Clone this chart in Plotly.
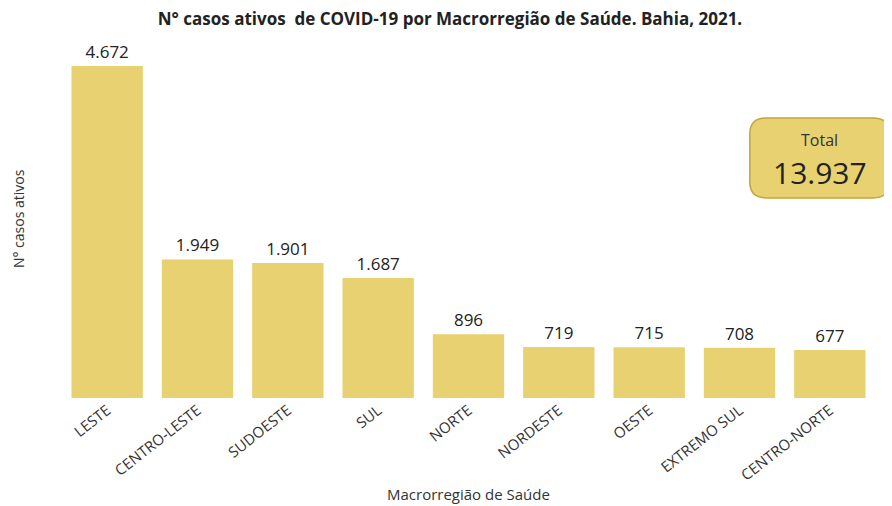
import plotly.graph_objects as go

regioes = ['LESTE', 'CENTRO-LESTE', 'SUDOESTE', 'SUL', 'NORTE', 'NORDESTE',
           'OESTE', 'EXTREMO SUL', 'CENTRO-NORTE']
casos = [4672, 1949, 1901, 1687, 896, 719, 715, 708, 677]
total = 13937

bar_color = '#E8D170'
font_family = 'Open Sans, Noto Sans, sans-serif'

fig = go.Figure()
fig.add_trace(go.Bar(
    x=regioes, y=casos,
    marker=dict(color=bar_color, line=dict(width=0)),
    texttemplate='%{y:,}', textposition='outside', cliponaxis=False,
    textfont=dict(size=17, color='#222222', family=font_family),
))

# caixa do total (retângulo arredondado)
x0, x1, y0, y1 = 0.846, 1.018, 0.559, 0.782
rx, ry = 0.02, 0.045
path = (f'M {x0+rx},{y0} L {x1-rx},{y0} Q {x1},{y0} {x1},{y0+ry} '
        f'L {x1},{y1-ry} Q {x1},{y1} {x1-rx},{y1} L {x0+rx},{y1} '
        f'Q {x0},{y1} {x0},{y1-ry} L {x0},{y0+ry} Q {x0},{y0} {x0+rx},{y0} Z')
fig.add_shape(type='path', path=path, xref='paper', yref='paper',
              fillcolor=bar_color, line=dict(color='#C4A53E', width=1.5))
fig.add_annotation(x=(x0+x1)/2, y=0.72, xref='paper', yref='paper',
                   xanchor='center', yanchor='middle',
                   text='Total', showarrow=False,
                   font=dict(size=16, color='#333333', family=font_family))
fig.add_annotation(x=(x0+x1)/2, y=0.63, xref='paper', yref='paper',
                   xanchor='center', yanchor='middle',
                   text=f'{total:,}'.replace(',', '.'), showarrow=False,
                   font=dict(size=30, color='#222222', family=font_family))

# títulos dos eixos
fig.add_annotation(x=-0.054, y=0.5, xref='paper', yref='paper',
                   xanchor='center', yanchor='middle', textangle=-90,
                   text='N° casos ativos', showarrow=False,
                   font=dict(size=14, color='#333333', family=font_family))
fig.add_annotation(x=0.5, y=-0.268, xref='paper', yref='paper',
                   xanchor='center', yanchor='middle',
                   text='Macrorregião de Saúde', showarrow=False,
                   font=dict(size=15, color='#333333', family=font_family))

fig.update_layout(
    width=884, height=498,
    margin=dict(l=54, r=17, t=32, b=108, autoexpand=False),
    paper_bgcolor='white', plot_bgcolor='white',
    separators=',.',
    bargap=0.21,
    showlegend=False,
    title=dict(text='<b>N° casos ativos  de COVID-19 por Macrorregião de Saúde. Bahia, 2021.</b>',
               x=0.5, xanchor='center', y=0.99, yanchor='top',
               font=dict(size=17, color='#222222', family=font_family)),
    font=dict(family=font_family, color='#333333'),
    xaxis=dict(tickangle=-38, tickfont=dict(size=15, color='#333333'),
               showline=False, showgrid=False, ticks='', automargin=False),
    yaxis=dict(range=[0, 5037], showticklabels=False, showgrid=False,
               zeroline=False, showline=False, automargin=False),
)

fig.write_html('out.html')
